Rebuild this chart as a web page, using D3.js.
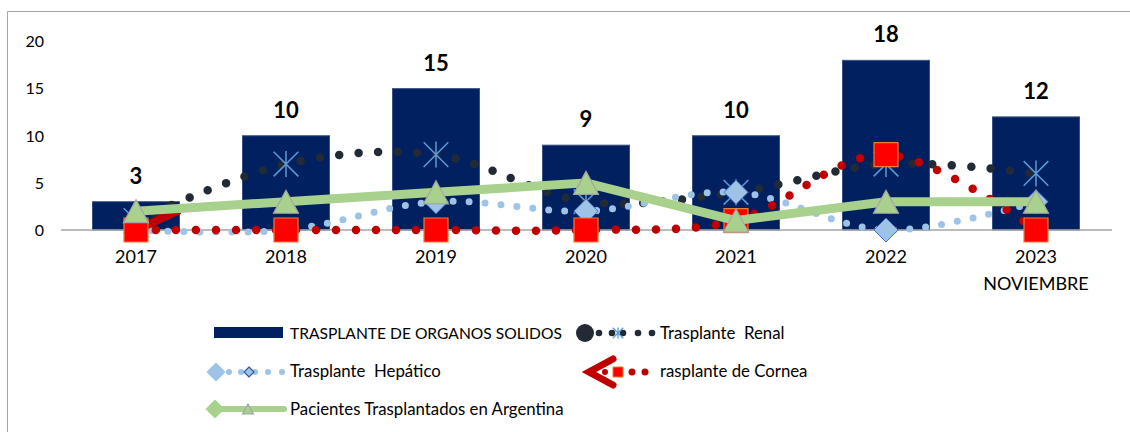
<!DOCTYPE html>
<html>
<head>
<meta charset="utf-8">
<script src="https://cdn.jsdelivr.net/npm/d3@7"></script>
<style>
  body { margin: 0; background: #fff; }
  svg { display: block; font-family: Lato, "Open Sans", sans-serif; }
</style>
</head>
<body>
<svg id="chart" width="1130" height="432"></svg>
<script>
// Chart data
const years = ['2017', '2018', '2019', '2020', '2021', '2022', '2023'];
const yearLabels = [['2017'], ['2018'], ['2019'], ['2020'], ['2021'], ['2022'], ['2023', 'NOVIEMBRE']];
const solidos = [3, 10, 15, 9, 10, 18, 12];
const renal = [1, 7, 8, 3, 4, 7, 6];
const hepatico = [0, 0, 3, 2, 4, 0, 3];
const cornea = [0, 0, 0, 0, 1, 8, 0];
const pacientes = [2, 3, 4, 5, 1, 3, 3];
const yTicks = [0, 5, 10, 15, 20];
// short thick red stroke leaving the 2017 cornea point (offset in steps, value)
const corneaStub = [[0, 0], [0.29, 2.1]];

const svg = d3.select('#chart');

// outer frame
svg.append('path')
  .attr('d', 'M7.5,432V11.5H1130')
  .attr('fill', 'none')
  .attr('stroke', '#a6a6a6')
  .attr('stroke-width', 1);

const x = d3.scaleBand()
  .domain(years)
  .range([61, 1111])
  .paddingInner(0.42)
  .paddingOuter(0.21);

const y = d3.scaleLinear()
  .domain([0, 20])
  .range([230, 41.5]);

const cx = d => x(d) + x.bandwidth() / 2;

// y tick labels (no axis line, no gridlines)
svg.append('g')
  .selectAll('text')
  .data(yTicks)
  .enter().append('text')
    .attr('x', 44)
    .attr('y', d => y(d))
    .attr('dy', '0.36em')
    .attr('text-anchor', 'end')
    .style('font-size', '16px')
    .attr('fill', '#000')
    .text(d => d);

// bars
svg.append('g')
  .selectAll('rect')
  .data(solidos)
  .enter().append('rect')
    .attr('x', (d, i) => x(years[i]))
    .attr('y', d => y(d))
    .attr('width', x.bandwidth())
    .attr('height', d => y(0) - y(d))
    .attr('fill', '#002060')
    .attr('stroke', '#3b5183')
    .attr('stroke-width', 1);

// x axis line
svg.append('line')
  .attr('x1', x.range()[0])
  .attr('x2', x.range()[1] + 1)
  .attr('y1', y(0))
  .attr('y2', y(0))
  .attr('stroke', '#a6a6a6')
  .attr('stroke-width', 1.5);

// bar value labels
svg.append('g')
  .selectAll('text')
  .data(solidos)
  .enter().append('text')
    .attr('x', (d, i) => cx(years[i]))
    .attr('y', d => y(d) - 18)
    .attr('text-anchor', 'middle')
    .style('font-size', '22px')
    .style('font-weight', 'bold')
    .attr('fill', '#000')
    .text(d => d);

// category labels
const xl = svg.append('g')
  .selectAll('text')
  .data(yearLabels)
  .enter().append('text')
    .attr('x', (d, i) => cx(years[i]))
    .attr('y', 263)
    .attr('text-anchor', 'middle')
    .style('font-size', '18px')
    .attr('fill', '#000');
xl.selectAll('tspan')
  .data(d => d)
  .enter().append('tspan')
    .attr('x', function () { return d3.select(this.parentNode).attr('x'); })
    .attr('dy', (d, i) => i === 0 ? 0 : 27)
    .text(d => d);

// marker shapes
const diamond = s => `M0,${-s / 2}L${s / 2},0L0,${s / 2}L${-s / 2},0Z`;
const square = s => `M${-s / 2},${-s / 2}H${s / 2}V${s / 2}H${-s / 2}Z`;
const triangle = (w, h) => `M0,${-h / 2}L${w / 2},${h / 2}L${-w / 2},${h / 2}Z`;
const asterisk = s => {
  const h = s / 2, d = h * 0.95;
  return `M0,${-h}V${h}M${-d},${-d}L${d},${d}M${-d},${d}L${d},${-d}`;
};

const smooth = d3.line()
  .x((d, i) => cx(years[i]))
  .y(d => y(d))
  .curve(d3.curveCatmullRom.alpha(0));

function dotted(values, color, width, gap) {
  svg.append('path')
    .attr('d', smooth(values))
    .attr('fill', 'none')
    .attr('stroke', color)
    .attr('stroke-width', width)
    .attr('stroke-linecap', 'round')
    .attr('stroke-dasharray', `0 ${gap}`);
}

function markers(values, path, fill, stroke, sw) {
  svg.append('g')
    .selectAll('path')
    .data(values)
    .enter().append('path')
      .attr('transform', (d, i) => `translate(${cx(years[i])},${y(d)})`)
      .attr('d', path)
      .attr('fill', fill)
      .attr('stroke', stroke)
      .attr('stroke-width', sw);
}

// Trasplante Renal
dotted(renal, '#222a35', 8.5, 19.5);
markers(renal, asterisk(26), 'none', '#5b9bd5', 1.5);

// Trasplante Hepatico
dotted(hepatico, '#9dc3e6', 7, 16);
markers(hepatico, diamond(24), '#9dc3e6', '#4472c4', 1);

// Trasplante de Cornea
dotted(cornea, '#c00000', 8.5, 20);
svg.append('path')
  .attr('d', d3.line()
    .x(d => cx(years[0]) + d[0] * x.step())
    .y(d => y(d[1]))(corneaStub))
  .attr('fill', 'none')
  .attr('stroke', '#c00000')
  .attr('stroke-width', 8);
markers(cornea, square(24), '#ff0000', '#ed7d31', 1.2);

// Pacientes Trasplantados en Argentina
svg.append('path')
  .attr('d', d3.line().x((d, i) => cx(years[i])).y(d => y(d))(pacientes))
  .attr('fill', 'none')
  .attr('stroke', '#a9d18e')
  .attr('stroke-width', 9)
  .attr('stroke-linejoin', 'round');
markers(pacientes, triangle(25, 23), '#a9d18e', '#a5a5a5', 1.2);

// legend
const leg = svg.append('g');
const legText = (tx, ty, label, size) => leg.append('text')
  .attr('x', tx).attr('y', ty)
  .style('font-size', (size || 16.8) + 'px')
  .style('white-space', 'pre')
  .attr('fill', '#000')
  .text(label);
const legDot = (px, py, r, color) => leg.append('circle')
  .attr('cx', px).attr('cy', py).attr('r', r).attr('fill', color);
const legShape = (px, py, d, fill, stroke, sw) => leg.append('path')
  .attr('transform', `translate(${px},${py})`)
  .attr('d', d).attr('fill', fill).attr('stroke', stroke).attr('stroke-width', sw || 1);

// row 1: bars
leg.append('rect')
  .attr('x', 214).attr('y', 327).attr('width', 69).attr('height', 11)
  .attr('fill', '#002060');
legText(290, 339, 'TRASPLANTE DE ORGANOS SOLIDOS', 15.6);

// row 1: renal
legDot(585, 333, 9, '#222a35');
[599, 612, 623, 638, 652].forEach(p => legDot(p, 333, 3.3, '#222a35'));
legShape(618, 333, asterisk(11), 'none', '#5b9bd5', 1.3);
legText(660, 339, 'Trasplante  Renal');

// row 2: hepatico
legShape(216, 372, diamond(19), '#9dc3e6', 'none');
[229, 241, 255, 268, 282].forEach(p => legDot(p, 372, 3, '#9dc3e6'));
legShape(249, 372, diamond(10), '#9dc3e6', '#2f5597', 1.2);
legText(290, 377, 'Trasplante  Hepático');

// row 2: cornea
leg.append('path')
  .attr('d', 'M613,359L589,372L613,385')
  .attr('fill', 'none')
  .attr('stroke', '#c00000')
  .attr('stroke-width', 7)
  .attr('stroke-linecap', 'round');
legDot(605, 372, 3, '#c00000');
legShape(618, 372, square(10), '#ff0000', '#ed7d31', 1);
[632, 645].forEach(p => legDot(p, 372, 3.5, '#c00000'));
legText(660, 377, 'rasplante de Cornea');

// row 3: pacientes
leg.append('line')
  .attr('x1', 215).attr('x2', 284).attr('y1', 409).attr('y2', 409)
  .attr('stroke', '#a9d18e').attr('stroke-width', 6).attr('stroke-linecap', 'round');
legShape(215, 409, diamond(19), '#a9d18e', 'none');
legShape(248, 409, triangle(11, 10), '#a9d18e', '#a5a5a5', 1.2);
legText(290, 415, 'Pacientes Trasplantados en Argentina');
</script>
</body>
</html>
